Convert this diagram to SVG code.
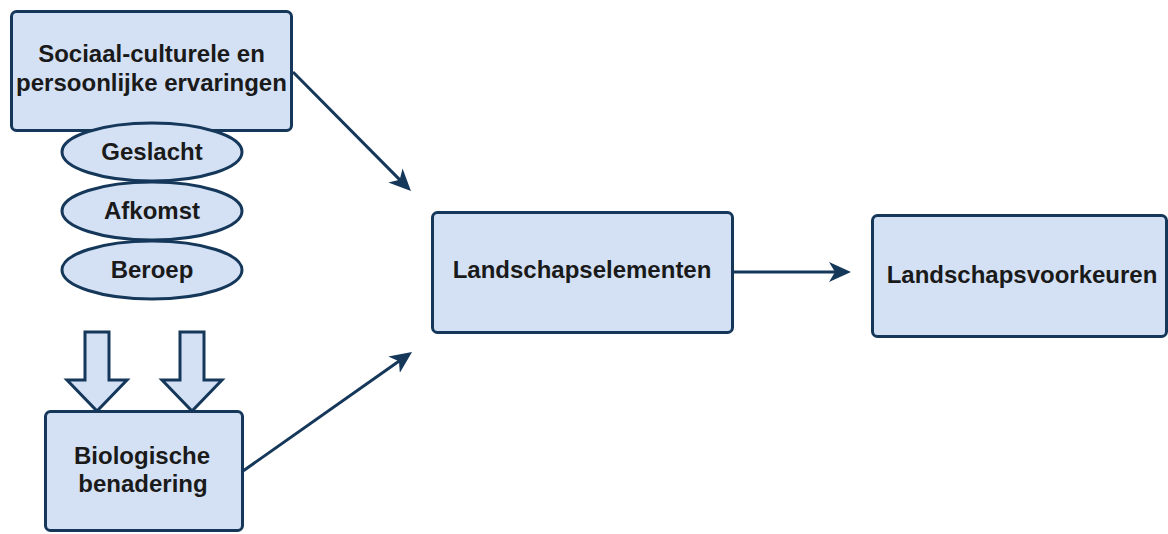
<svg xmlns="http://www.w3.org/2000/svg" width="1168" height="534" viewBox="0 0 1168 534">
  <style>
    .box { fill: #D4E1F5; stroke: #14375A; stroke-width: 3; }
    .lbl { font-family: "Liberation Sans", Arial, sans-serif; font-weight: bold; font-size: 24px; fill: #1A1A1A; text-anchor: middle; }
    .edge { fill: none; stroke: #14375A; stroke-width: 3; }
  </style>
  <defs>
    <marker id="arr" markerUnits="userSpaceOnUse" viewBox="0 0 22 20" refX="8" refY="10" markerWidth="22" markerHeight="20" orient="auto">
      <path d="M0,0 L22,10 L0,20 L6,10 Z" fill="#14375A"/>
    </marker>
  </defs>
  <rect width="1168" height="534" fill="#FFFFFF"/>

  <g id="node-sociaal">
    <rect class="box" x="11.5" y="11.5" width="280" height="119" rx="5"/>
    <text class="lbl" x="151.5" y="62">Sociaal-culturele en</text>
    <text class="lbl" x="151.5" y="91">persoonlijke ervaringen</text>
  </g>
  <g id="node-geslacht">
    <ellipse class="box" cx="152" cy="152" rx="90" ry="29"/>
    <text class="lbl" x="152" y="160">Geslacht</text>
  </g>
  <g id="node-afkomst">
    <ellipse class="box" cx="152" cy="211" rx="90" ry="29"/>
    <text class="lbl" x="152" y="219">Afkomst</text>
  </g>
  <g id="node-beroep">
    <ellipse class="box" cx="152" cy="270" rx="90" ry="29"/>
    <text class="lbl" x="152" y="278">Beroep</text>
  </g>
  <g id="node-block-arrows">
    <polygon class="box" points="85,332 109,332 109,380 127,380 97,411 67,380 85,380"/>
    <polygon class="box" points="180,332 204,332 204,380 222,380 192,411 162,380 180,380"/>
  </g>
  <g id="node-biologisch">
    <rect class="box" x="45.5" y="411.5" width="197" height="119" rx="5"/>
    <text class="lbl" x="142" y="464">Biologische</text>
    <text class="lbl" x="143" y="492">benadering</text>
  </g>
  <g id="node-elementen">
    <rect class="box" x="432.5" y="212.5" width="300" height="120" rx="5"/>
    <text class="lbl" x="582" y="278">Landschapselementen</text>
  </g>
  <g id="node-voorkeuren">
    <rect class="box" x="872.5" y="215.5" width="294" height="121" rx="5"/>
    <text class="lbl" x="1022" y="283">Landschapsvoorkeuren</text>
  </g>

  <g id="connectors">
    <line class="edge" x1="293" y1="72" x2="401.1" y2="181.1" marker-end="url(#arr)"/>
    <line class="edge" x1="243" y1="471" x2="400.6" y2="360.1" marker-end="url(#arr)"/>
    <line class="edge" x1="733" y1="272" x2="837" y2="272" marker-end="url(#arr)"/>
  </g>
</svg>
